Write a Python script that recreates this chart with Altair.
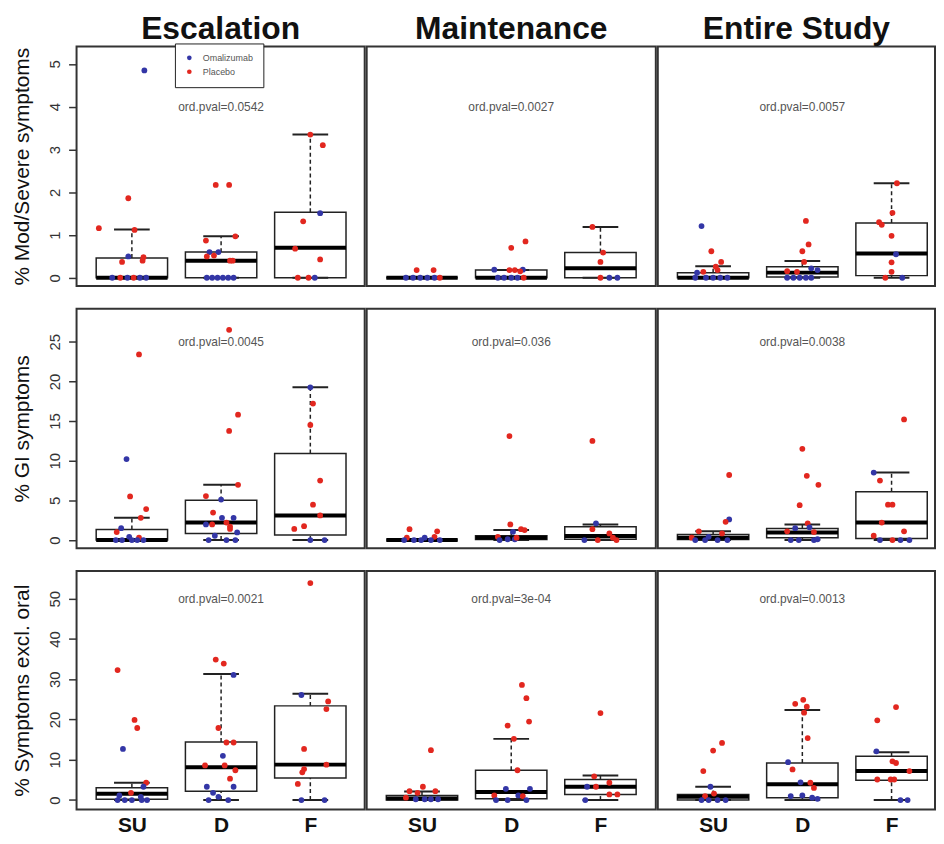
import altair as alt
import pandas as pd

BLUE = "#3336a6"
RED = "#e2271f"
GROUPS = ["SU", "D", "F"]
ARM_NAMES = {"O": "Omalizumab", "P": "Placebo"}
PHASES = ["Escalation", "Maintenance", "Entire Study"]
MEASURES = ["% Mod/Severe symptoms", "% GI symptoms", "% Symptoms excl. oral"]
Y_DOMAINS = [[-0.19, 5.41], [-1.03, 29.16], [-2.35, 56.9]]
Y_TICKS = [[0, 1, 2, 3, 4, 5], [0, 5, 10, 15, 20, 25], [0, 10, 20, 30, 40, 50]]
PVAL_Y = [4, 25, 50]
PVALS = [
    ["ord.pval=0.0542", "ord.pval=0.0027", "ord.pval=0.0057"],
    ["ord.pval=0.0045", "ord.pval=0.036", "ord.pval=0.0038"],
    ["ord.pval=0.0021", "ord.pval=3e-04", "ord.pval=0.0013"],
]

# points: (group index, jitter, value, arm)
ESC_MOD = [
    (1, 0.14, 4.85, "O"), (1, -0.04, 1.86, "P"), (1, -0.37, 1.16, "P"), (1, 0.03, 1.12, "P"),
    (1, -0.04, 0.50, "O"), (1, -0.11, 0.37, "P"), (1, 0.13, 0.48, "P"), (1, 0.12, 0.40, "P"),
    (1, -0.22, 0, "O"), (1, -0.13, 0, "P"), (1, -0.05, 0, "O"), (1, 0.02, 0, "P"), (1, 0.09, 0, "O"), (1, 0.16, 0, "O"),
    (2, -0.06, 2.17, "P"), (2, 0.09, 2.17, "P"), (2, -0.17, 0.87, "P"), (2, 0.16, 0.97, "P"),
    (2, -0.13, 0.60, "O"), (2, -0.03, 0.60, "O"), (2, -0.16, 0.50, "P"), (2, -0.08, 0.52, "P"),
    (2, 0.10, 0.40, "P"), (2, 0.13, 0.40, "P"),
    (2, -0.16, 0, "O"), (2, -0.10, 0, "O"), (2, -0.04, 0, "O"), (2, 0.02, 0, "O"), (2, 0.08, 0, "O"), (2, 0.14, 0, "O"),
    (3, 0.0, 3.35, "P"), (3, 0.14, 3.10, "P"), (3, 0.11, 1.51, "O"), (3, -0.08, 1.32, "P"),
    (3, -0.17, 0.68, "P"), (3, 0.11, 0.43, "P"), (3, -0.14, 0, "P"), (3, -0.02, 0, "P"), (3, 0.05, 0, "O"),
]
MNT_MOD = [
    (1, -0.06, 0.18, "P"), (1, 0.13, 0.18, "P"),
    (1, -0.18, 0, "O"), (1, -0.10, 0, "O"), (1, -0.02, 0, "O"), (1, 0.06, 0, "O"), (1, 0.14, 0, "O"), (1, 0.20, 0, "P"),
    (2, -0.19, 0.19, "O"), (2, 0.0, 0.70, "P"), (2, 0.16, 0.85, "P"), (2, -0.02, 0.18, "P"),
    (2, 0.04, 0.18, "P"), (2, 0.13, 0.19, "O"), (2, 0.10, 0.15, "P"),
    (2, -0.15, 0, "O"), (2, -0.08, 0, "O"), (2, 0.0, 0, "O"), (2, 0.07, 0, "O"), (2, 0.14, 0, "P"),
    (3, -0.09, 1.19, "P"), (3, 0.03, 0.59, "P"), (3, 0.0, 0.37, "P"), (3, 0.0, 0, "P"), (3, 0.10, 0, "O"), (3, 0.19, 0, "O"),
]
ES_MOD = [
    (1, -0.13, 1.21, "O"), (1, -0.02, 0.62, "P"), (1, 0.09, 0.37, "P"), (1, 0.03, 0.26, "P"),
    (1, 0.05, 0.18, "P"), (1, -0.11, 0.14, "P"), (1, -0.18, 0.12, "O"),
    (1, -0.20, 0, "O"), (1, -0.08, 0, "O"), (1, 0.0, 0, "O"), (1, 0.08, 0, "O"), (1, 0.16, 0, "O"),
    (2, 0.04, 1.33, "P"), (2, 0.07, 0.78, "P"), (2, 0.0, 0.62, "P"), (2, 0.02, 0.37, "P"),
    (2, -0.17, 0.155, "P"), (2, -0.06, 0.14, "P"), (2, 0.17, 0.18, "O"), (2, 0.10, 0.22, "O"),
    (2, -0.17, 0, "O"), (2, -0.10, 0, "O"), (2, -0.03, 0, "O"), (2, 0.04, 0, "O"), (2, 0.10, 0, "O"),
    (3, 0.06, 2.21, "P"), (3, 0.01, 1.52, "P"), (3, -0.14, 1.30, "P"), (3, -0.11, 1.24, "P"),
    (3, 0.0, 0.98, "P"), (3, 0.05, 0.55, "O"), (3, 0.0, 0.36, "P"), (3, 0.0, 0.14, "P"),
    (3, -0.07, 0, "P"), (3, 0.12, 0, "O"),
]
ESC_GI = [
    (1, 0.08, 23.4, "P"), (1, -0.06, 10.2, "O"), (1, -0.02, 5.5, "P"), (1, 0.16, 3.9, "P"),
    (1, 0.10, 2.8, "P"), (1, -0.12, 1.5, "O"), (1, -0.17, 1.0, "P"), (1, -0.03, 0.4, "O"), (1, 0.08, 0.3, "P"),
    (1, -0.18, 0, "O"), (1, -0.11, 0, "O"), (1, 0.0, 0, "O"), (1, 0.06, 0, "O"), (1, 0.13, 0, "O"),
    (2, 0.09, 26.5, "P"), (2, 0.19, 15.8, "P"), (2, 0.09, 13.75, "P"), (2, 0.19, 6.96, "P"),
    (2, -0.17, 5.54, "P"), (2, 0.0, 5.1, "O"), (2, -0.09, 3.46, "P"), (2, 0.01, 2.8, "O"),
    (2, 0.14, 2.8, "O"), (2, -0.10, 1.96, "P"), (2, -0.17, 1.96, "O"), (2, 0.06, 2.2, "P"),
    (2, 0.10, 1.4, "P"), (2, 0.10, 1.7, "P"), (2, 0.18, 0.96, "O"), (2, -0.07, 0.54, "O"),
    (2, -0.14, 0, "O"), (2, 0.06, 0, "O"), (2, 0.16, 0, "O"),
    (3, 0.0, 19.25, "O"), (3, 0.03, 17.2, "P"), (3, 0.0, 14.5, "P"), (3, 0.11, 7.5, "P"),
    (3, 0.03, 4.46, "P"), (3, 0.11, 3.1, "P"), (3, -0.18, 1.4, "P"), (3, -0.07, 1.75, "P"),
    (3, 0.0, 0, "O"), (3, 0.16, 0, "O"),
]
MNT_GI = [
    (1, -0.14, 1.37, "P"), (1, 0.17, 1.1, "P"), (1, -0.17, 0.3, "P"), (1, 0.03, 0.3, "O"), (1, 0.14, 0.4, "P"),
    (1, -0.20, 0, "O"), (1, -0.09, 0, "O"), (1, -0.01, 0, "O"), (1, 0.10, 0, "O"), (1, 0.20, 0, "O"),
    (2, -0.02, 13.1, "P"), (2, -0.01, 1.96, "P"), (2, 0.11, 1.37, "P"), (2, 0.15, 1.25, "P"),
    (2, 0.02, 1.04, "O"), (2, -0.15, 0.4, "P"), (2, -0.13, 0, "O"), (2, -0.04, 0.1, "O"),
    (2, 0.04, 0.1, "O"), (2, 0.06, 0.3, "P"),
    (3, -0.09, 12.5, "P"), (3, -0.05, 2.1, "O"), (3, -0.09, 1.37, "P"), (3, 0.10, 0.83, "P"),
    (3, 0.14, 0.3, "P"), (3, -0.03, 0, "P"), (3, 0.18, 0, "P"), (3, -0.18, 0, "O"),
]
ES_GI = [
    (1, 0.18, 8.2, "P"), (1, 0.18, 2.6, "O"), (1, 0.14, 2.3, "P"), (1, -0.16, 1.1, "P"),
    (1, 0.10, 0.83, "P"), (1, -0.05, 0.4, "O"), (1, -0.24, 0.3, "P"),
    (1, -0.20, 0, "O"), (1, -0.09, 0, "O"), (1, 0.05, 0, "O"), (1, 0.16, 0, "O"),
    (2, 0.0, 11.5, "P"), (2, 0.05, 8.1, "P"), (2, 0.18, 6.96, "P"), (2, -0.03, 4.4, "P"),
    (2, 0.06, 2.1, "P"), (2, -0.08, 1.5, "O"), (2, -0.17, 1.1, "P"), (2, 0.08, 1.6, "O"),
    (2, 0.13, 1.0, "P"), (2, -0.13, 0, "O"), (2, -0.04, 0, "O"), (2, 0.13, 0, "O"), (2, 0.17, 0.1, "O"),
    (3, 0.14, 15.2, "P"), (3, -0.20, 8.5, "O"), (3, -0.13, 7.5, "P"), (3, -0.04, 4.46, "P"),
    (3, 0.01, 4.46, "P"), (3, -0.11, 2.2, "P"), (3, 0.14, 1.1, "P"), (3, -0.20, 0.54, "P"),
    (3, -0.13, 0, "O"), (3, 0.10, 0, "O"), (3, 0.20, 0, "O"), (3, 0.01, 0, "P"),
]
ESC_ORAL = [
    (1, -0.16, 32.3, "P"), (1, 0.03, 19.9, "P"), (1, 0.06, 17.9, "P"), (1, -0.10, 12.7, "O"),
    (1, 0.16, 4.3, "P"), (1, 0.13, 3.3, "O"), (1, -0.01, 1.8, "P"), (1, -0.14, 1.15, "O"), (1, 0.10, 0.8, "O"),
    (1, -0.16, 0, "O"), (1, -0.08, 0, "O"), (1, 0.0, 0, "O"), (1, 0.11, 0, "O"), (1, 0.17, 0, "O"),
    (2, -0.06, 34.9, "P"), (2, 0.03, 33.9, "P"), (2, 0.14, 31.1, "O"), (2, -0.03, 17.9, "P"),
    (2, 0.06, 14.3, "P"), (2, 0.14, 14.3, "P"), (2, 0.02, 11.0, "O"), (2, -0.18, 8.6, "P"),
    (2, 0.04, 8.6, "P"), (2, 0.16, 7.4, "P"), (2, 0.10, 5.3, "P"), (2, -0.16, 3.3, "O"),
    (2, 0.14, 3.3, "O"), (2, -0.09, 1.8, "O"), (2, -0.03, 0.8, "O"), (2, -0.14, 0, "O"), (2, 0.08, 0, "O"),
    (3, 0.0, 53.9, "P"), (3, -0.10, 26.1, "O"), (3, 0.20, 24.5, "P"), (3, 0.18, 22.6, "P"),
    (3, -0.07, 12.7, "P"), (3, 0.18, 8.8, "P"), (3, -0.07, 7.7, "P"), (3, -0.09, 6.9, "P"),
    (3, -0.14, 4.0, "P"), (3, -0.10, 0, "O"), (3, 0.16, 0, "O"),
]
MNT_ORAL = [
    (1, 0.10, 12.4, "P"), (1, 0.01, 3.3, "P"), (1, -0.14, 2.2, "P"), (1, 0.15, 2.2, "P"),
    (1, -0.05, 1.8, "P"), (1, -0.18, 0.6, "P"), (1, -0.07, 0.2, "O"), (1, 0.03, 0.2, "O"),
    (1, 0.10, 0.2, "O"), (1, 0.18, 0.2, "O"),
    (2, 0.12, 28.6, "P"), (2, 0.17, 25.3, "P"), (2, -0.04, 18.5, "P"), (2, 0.20, 19.5, "P"),
    (2, 0.03, 15.2, "P"), (2, 0.07, 7.4, "P"), (2, -0.06, 2.8, "O"), (2, -0.19, 1.15, "P"),
    (2, 0.21, 2.8, "O"), (2, 0.08, 1.15, "O"), (2, 0.13, 1.0, "P"), (2, -0.17, 0, "O"),
    (2, 0.17, 0, "O"), (2, -0.04, 0, "O"),
    (3, 0.0, 21.6, "P"), (3, -0.07, 5.9, "P"), (3, -0.15, 3.3, "O"), (3, -0.05, 3.3, "P"),
    (3, 0.10, 4.3, "P"), (3, 0.10, 1.4, "P"), (3, 0.19, 1.4, "P"), (3, -0.17, 0, "O"),
]
ES_ORAL = [
    (1, 0.10, 14.2, "P"), (1, 0.0, 12.3, "P"), (1, -0.11, 7.2, "P"), (1, -0.03, 3.3, "O"),
    (1, 0.01, 1.6, "P"), (1, -0.09, 0.95, "P"), (1, -0.13, 0, "O"), (1, -0.05, 0, "O"),
    (1, 0.05, 0, "O"), (1, 0.14, 0, "O"),
    (2, 0.01, 24.9, "P"), (2, -0.08, 23.9, "P"), (2, 0.05, 23.2, "P"), (2, 0.02, 21.7, "P"),
    (2, 0.06, 15.4, "P"), (2, -0.16, 9.4, "O"), (2, -0.11, 7.6, "P"), (2, -0.02, 4.4, "O"),
    (2, 0.09, 4.3, "P"), (2, 0.13, 3.0, "P"), (2, -0.13, 1.0, "O"), (2, 0.0, 1.15, "O"),
    (2, 0.11, 0.6, "O"), (2, 0.17, 0.3, "O"),
    (3, 0.05, 23.1, "P"), (3, -0.16, 19.8, "P"), (3, -0.17, 12.1, "O"), (3, 0.01, 9.6, "P"),
    (3, 0.05, 9.2, "P"), (3, 0.20, 7.2, "P"), (3, -0.16, 5.1, "P"), (3, -0.01, 5.1, "P"),
    (3, 0.03, 5.1, "P"), (3, 0.10, 0, "O"), (3, 0.18, 0, "O"),
]

# box stats per group SU, D, F: (q1, median, q3, lower whisker, upper whisker)
BOX_ESC_MOD = [(0, 0, 0.46, 0, 1.13), (0, 0.40, 0.60, 0, 0.97), (0, 0.70, 1.53, 0, 3.35)]
BOX_MNT_MOD = [(0, 0, 0, 0, 0), (0, 0, 0.18, 0, 0.18), (0, 0.22, 0.59, 0, 1.19)]
BOX_ES_MOD = [(0, 0, 0.12, 0, 0.27), (0.02, 0.12, 0.26, 0, 0.39), (0.05, 0.57, 1.28, 0, 2.21)]
BOX_ESC_GI = [(0, 0, 1.33, 0, 2.8), (0.83, 2.2, 5.0, 0, 6.96), (0.63, 3.1, 10.9, 0, 19.25)]
BOX_MNT_GI = [(0, 0, 0, 0, 0), (0.05, 0.3, 0.54, 0, 1.25), (0.1, 0.5, 1.67, 0, 1.96)]
BOX_ES_GI = [(0.05, 0.29, 0.7, 0, 1.1), (0.3, 0.96, 1.46, 0, 1.96), (0.2, 2.2, 6.1, 0, 8.5)]
BOX_ESC_ORAL = [(0.2, 1.56, 3.05, 0, 4.3), (2.2, 8.15, 14.4, 0, 31.3), (5.5, 8.8, 23.4, 0, 26.4)]
BOX_MNT_ORAL = [(0, 0.4, 1.1, 0, 2.1), (0.3, 2.0, 7.4, 0, 15.2), (1.4, 3.3, 5.1, 0, 6.1)]
BOX_ES_ORAL = [(0, 0.8, 1.4, 0, 3.3), (0.6, 3.9, 9.2, 0, 22.4), (4.9, 7.2, 10.9, 0, 11.9)]

POINTS = [[ESC_MOD, MNT_MOD, ES_MOD], [ESC_GI, MNT_GI, ES_GI], [ESC_ORAL, MNT_ORAL, ES_ORAL]]
BOXES = [[BOX_ESC_MOD, BOX_MNT_MOD, BOX_ES_MOD], [BOX_ESC_GI, BOX_MNT_GI, BOX_ES_GI],
         [BOX_ESC_ORAL, BOX_MNT_ORAL, BOX_ES_ORAL]]

PANEL_W = [290, 291, 279]
ROW_H = [241, 241, 240]
UNIT_PX = 89.8
FONT = "Liberation Sans"


def panel(r, c):
    pts = pd.DataFrame(POINTS[r][c], columns=["g", "jit", "val", "arm"])
    pts["x"] = pts["g"] + pts["jit"]
    pts["arm"] = pts["arm"].map(ARM_NAMES)
    box = pd.DataFrame(BOXES[r][c], columns=["q1", "med", "q3", "lo", "hi"])
    box["g"] = [1, 2, 3]
    pv = pd.DataFrame({"x": [2], "y": [PVAL_Y[r]], "t": [PVALS[r][c]]})

    xdom = [0.38, 0.38 + PANEL_W[c] / UNIT_PX]
    xscale = alt.Scale(domain=xdom, nice=False, zero=False)
    yscale = alt.Scale(domain=Y_DOMAINS[r], nice=False, zero=False)
    if r == 2:
        xaxis = alt.Axis(values=[1, 2, 3], labelExpr="['SU','D','F'][datum.value-1]",
                         labelFontSize=21, labelFontWeight="bold", labelColor="#111",
                         ticks=False, domain=False, grid=False, labelPadding=5, title=None,
                         labelFont=FONT)
    else:
        xaxis = None
    if c == 0:
        yaxis = alt.Axis(values=Y_TICKS[r], labelAngle=270, labelAlign="center",
                         labelBaseline="middle", labelFontSize=15, labelColor="#333",
                         labelPadding=14, tickSize=8, tickWidth=1.5, tickColor="#333",
                         grid=False, domain=False, title=MEASURES[r], titleFontSize=21,
                         titleFontWeight="normal", titleColor="#111", titlePadding=15,
                         titleFont=FONT, labelFont=FONT)
    else:
        yaxis = None

    def X(f):
        return alt.X(f, scale=xscale, axis=xaxis)

    def Y(f):
        return alt.Y(f, scale=yscale, axis=yaxis)

    base_box = alt.Chart(box).transform_calculate(
        xl="datum.g - 0.4", xr="datum.g + 0.4", cl="datum.g - 0.2", cr="datum.g + 0.2"
    )
    rect = base_box.mark_rect(fill="white", stroke="#222", strokeWidth=1.5).encode(
        x=X("xl:Q"), x2="xr:Q", y=Y("q1:Q"), y2="q3:Q")
    wh_up = base_box.mark_rule(strokeDash=[4, 3], strokeWidth=1.5, color="#222").encode(
        x=X("g:Q"), y=Y("q3:Q"), y2="hi:Q")
    wh_lo = base_box.mark_rule(strokeDash=[4, 3], strokeWidth=1.5, color="#222").encode(
        x=X("g:Q"), y=Y("lo:Q"), y2="q1:Q")
    cap_up = base_box.mark_rule(strokeWidth=2, color="#222").encode(
        x=X("cl:Q"), x2="cr:Q", y=Y("hi:Q"))
    cap_lo = base_box.mark_rule(strokeWidth=2, color="#222").encode(
        x=X("cl:Q"), x2="cr:Q", y=Y("lo:Q"))
    med = base_box.mark_rule(strokeWidth=4, color="#000").encode(
        x=X("xl:Q"), x2="xr:Q", y=Y("med:Q"))

    if r == 0 and c == 0:
        legend = alt.Legend(orient="none", legendX=99, legendY=-3, title=None,
                            direction="vertical", strokeColor="#222", fillColor="white",
                            padding=10, labelFontSize=9, labelColor="#555", symbolSize=22,
                            symbolType="circle", symbolStrokeWidth=0, rowPadding=4,
                            labelOffset=9, labelFont=FONT)
    else:
        legend = None
    dots = alt.Chart(pts).mark_circle(size=34, opacity=1).encode(
        x=X("x:Q"), y=Y("val:Q"),
        color=alt.Color("arm:N", scale=alt.Scale(domain=["Omalizumab", "Placebo"], range=[BLUE, RED]),
                        legend=legend))
    txt = alt.Chart(pv).mark_text(fontSize=12, color="#555", font=FONT).encode(
        x=X("x:Q"), y=Y("y:Q"), text="t:N")

    layer = alt.layer(rect, wh_up, wh_lo, cap_up, cap_lo, med, dots, txt)
    if r == 0:
        layer = layer.properties(width=PANEL_W[c], height=ROW_H[r],
                                 title=alt.TitleParams(text=PHASES[c], fontSize=32, fontWeight="bold",
                                                       offset=0, anchor="middle", color="#111", font=FONT))
    else:
        layer = layer.properties(width=PANEL_W[c], height=ROW_H[r])
    return layer


rows = [alt.hconcat(*[panel(r, c) for c in range(3)], spacing=0) for r in range(3)]
chart = alt.vconcat(*rows, spacing=21).properties(
    padding={"left": 2, "top": 2, "right": 0, "bottom": 0}
).configure(font=FONT).configure_view(stroke="#333", strokeWidth=2)

chart.save("out.html", embed_options={"renderer": "svg", "actions": False})
